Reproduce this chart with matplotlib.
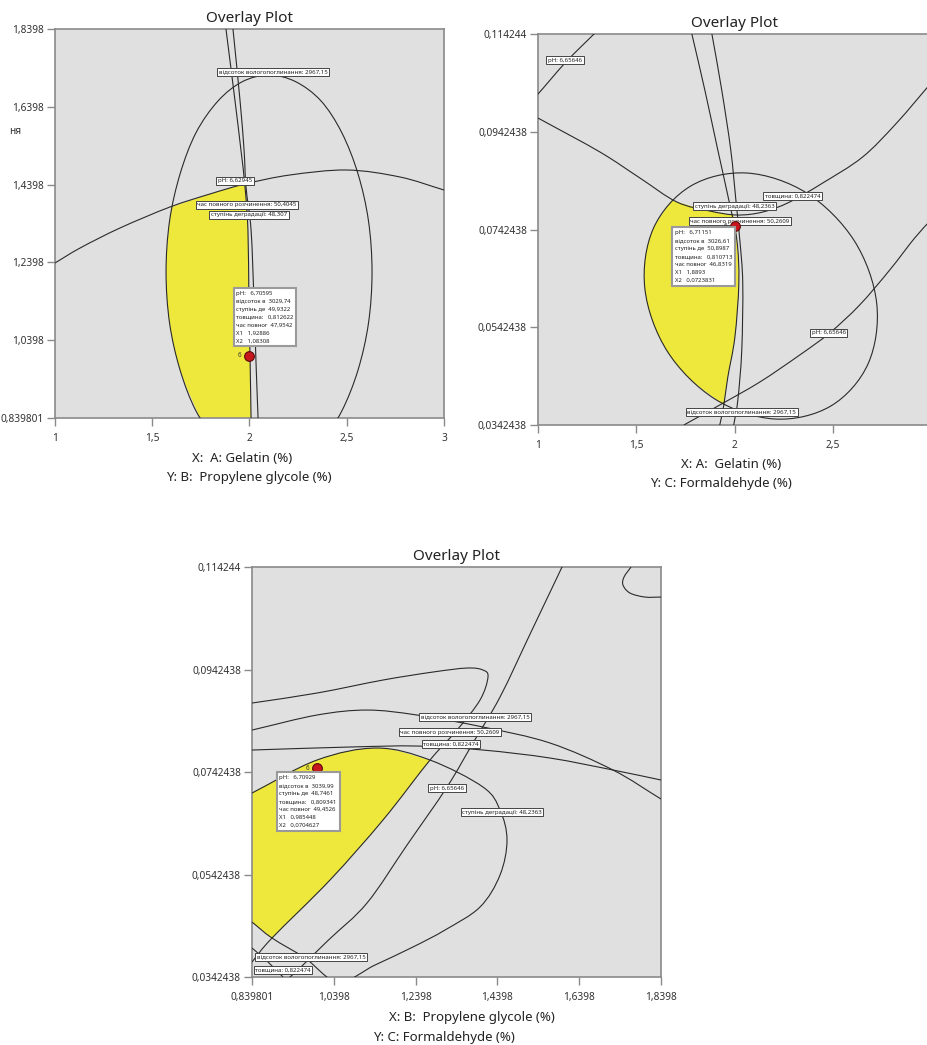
import numpy as np
import matplotlib
matplotlib.use('Agg')
import matplotlib.pyplot as plt
from matplotlib.path import Path
from matplotlib.patches import PathPatch

plt.rcParams['font.family'] = ['Noto Sans', 'DejaVu Sans']

# ---------------- panel 1 : Gelatin vs Propylene glycole ----------------
p1_xlim = (1, 3)
p1_ylim = (0.839801, 1.8398)
p1_xticks = [1, 1.5, 2, 2.5, 3]
p1_xlabels = ['1', '1,5', '2', '2,5', '3']
p1_yticks = [0.839801, 1.0398, 1.2398, 1.4398, 1.6398, 1.8398]
p1_ylabels = ['0,839801', '1,0398', '1,2398', '1,4398', '1,6398', '1,8398']

p1_moist = [(1.838, 0.7755), (1.725, 0.8578), (1.643, 0.9632), (1.589, 1.0840), (1.571, 1.2151),
            (1.589, 1.3462), (1.643, 1.4671), (1.725, 1.5732), (1.838, 1.6547), (1.963, 1.7043),
            (2.100, 1.7216), (2.2375, 1.7043), (2.368, 1.6547), (2.4746, 1.5732), (2.558, 1.4671),
            (2.6118, 1.3462), (2.630, 1.2151), (2.6118, 1.0840), (2.558, 0.9632), (2.4746, 0.8578),
            (2.368, 0.7755)]
p1_ph = [(1.0, 1.2383), (1.129, 1.2768), (1.334, 1.3282), (1.591, 1.3822), (1.797, 1.4157),
         (1.977, 1.4414), (2.208, 1.4645), (2.501, 1.4773), (2.774, 1.4593), (3.0, 1.4259)]
p1_time = [(1.879, 1.8398), (1.925, 1.6573), (1.956, 1.5287), (1.977, 1.4336), (1.992, 1.3231),
           (1.997, 1.1432), (2.003, 0.9889), (2.008, 0.8398)]
p1_degr = [(1.915, 1.8398), (1.951, 1.6573), (1.972, 1.5287), (1.982, 1.4336), (2.008, 1.3231),
           (2.023, 1.1432), (2.033, 0.9889), (2.044, 0.8398)]
p1_yellow = [
    [(1.7455, 0.8398), (1.643, 0.9632), (1.589, 1.0840), (1.571, 1.2151), (1.589, 1.3462),
     (1.6015, 1.3822)],
    [(1.6015, 1.3822), (1.797, 1.4157), (1.977, 1.4414)],
    [(1.977, 1.4414), (1.992, 1.3231), (1.997, 1.1432), (2.003, 0.9889), (2.008, 0.8398)],
    [(2.008, 0.8398), (1.7455, 0.8398)],
]
p1_labels = [
    (2.121, 1.7293, 'відсоток вологопоглинання: 2967,15'),
    (1.925, 1.4491, 'pH: 6,62945'),
    (1.987, 1.3874, 'час повного розчинення: 50,4045'),
    (1.997, 1.3617, 'ступінь деградації: 48,307'),
]
p1_point = (1.997, 0.9992)
p1_info = ['pH:   6,70595', 'відсоток в  3029,74', 'ступінь де  49,9322', 'товщина:   0,812622',
           'час повног  47,9542', 'X1   1,92886', 'X2   1,08308']

# ---------------- panel 2 : Gelatin vs Formaldehyde ----------------
p2_xlim = (1, 3)
p2_ylim = (0.0342438, 0.114244)
p2_xticks = [1, 1.5, 2, 2.5]
p2_xlabels = ['1', '1,5', '2', '2,5']
p2_yticks = [0.0342438, 0.0542438, 0.0742438, 0.0942438, 0.114244]
p2_ylabels = ['0,0342438', '0,0542438', '0,0742438', '0,0942438', '0,114244']

p2_ph_top = [(0.98, 0.10150), (1.0, 0.10197), (1.142, 0.10851), (1.285, 0.11424), (1.30, 0.1148)]
p2_degr = [(1.0, 0.09705), (1.3152, 0.09010), (1.5186, 0.08478), (1.7067, 0.07987), (1.8744, 0.07803),
           (2.012, 0.07721), (2.144, 0.07782), (2.281, 0.07987), (2.449, 0.08376), (2.652, 0.08908),
           (2.825, 0.09603), (3.0, 0.10420)]
p2_time = [(1.783, 0.11424), (1.849, 0.10278), (1.915, 0.09051), (1.971, 0.08028), (2.012, 0.07209),
           (2.022, 0.06330), (2.002, 0.05225), (1.966, 0.04406), (1.9456, 0.03833), (1.925, 0.03424)]
p2_thick = [(1.885, 0.11424), (1.935, 0.10278), (1.981, 0.09051), (2.007, 0.08028), (2.027, 0.07209),
            (2.042, 0.06330), (2.037, 0.04959), (2.017, 0.03936), (1.996, 0.03424)]
p2_moist = [(2.7235, 0.05921), (2.6091, 0.07197), (2.3671, 0.08171), (2.0625, 0.08580), (1.7773, 0.08314),
            (1.5872, 0.07447), (1.5440, 0.06207), (1.6584, 0.04930), (1.9004, 0.03956), (2.2049, 0.03547),
            (2.4901, 0.03813), (2.6802, 0.04680)]
p2_ph_low = [(1.742, 0.03424), (1.925, 0.03834), (2.129, 0.04304), (2.332, 0.04857), (2.484, 0.05307),
             (2.637, 0.05880), (2.790, 0.06596), (2.917, 0.07251), (3.0, 0.0762)]
p2_yellow = [
    [(1.9456, 0.03833), (1.7677, 0.04386), (1.6584, 0.04930), (1.5826, 0.05550), (1.5440, 0.06207),
     (1.5460, 0.06855), (1.5872, 0.07447), (1.6812, 0.08028)],
    [(1.6812, 0.08028), (1.7067, 0.07987), (1.8744, 0.07803), (1.996, 0.07721)],
    [(1.996, 0.07721), (2.012, 0.07209), (2.022, 0.06330), (2.002, 0.05225), (1.966, 0.04406),
     (1.9456, 0.03833)],
]
p2_labels = [
    (1.137, 0.10892, 'pH: 6,65646'),
    (2.0015, 0.07905, 'ступінь деградації: 48,2363'),
    (2.296, 0.08110, 'товщина: 0,822474'),
    (2.027, 0.07598, 'час повного розчинення: 50,2609'),
    (2.479, 0.05307, 'pH: 6,65646'),
    (2.037, 0.03690, 'відсоток вологопоглинання: 2967,15'),
]
p2_point = (2.0015, 0.07496)
p2_info = ['pH:   6,71151', 'відсоток в  3026,61', 'ступінь де  50,8987', 'товщина:   0,810713',
           'час повног  46,8319', 'X1   1,8893', 'X2   0,0723831']

# ---------------- panel 3 : Propylene glycole vs Formaldehyde ----------------
p3_xlim = (0.839801, 1.8398)
p3_ylim = (0.0342438, 0.114244)
p3_xticks = [0.839801, 1.0398, 1.2398, 1.4398, 1.6398, 1.8398]
p3_xlabels = ['0,839801', '1,0398', '1,2398', '1,4398', '1,6398', '1,8398']
p3_yticks = [0.0342438, 0.0542438, 0.0742438, 0.0942438, 0.114244]
p3_ylabels = ['0,0342438', '0,0542438', '0,0742438', '0,0942438', '0,114244']

p3_ph = [(1.6100, 0.11638), (1.5978, 0.11424), (1.5220, 0.10155), (1.4462, 0.08887), (1.3814, 0.08009),
         (1.3166, 0.07131), (1.2188, 0.05999), (1.1210, 0.04868), (1.0268, 0.04146), (0.9327, 0.03424),
         (0.8838, 0.03171)]
p3_hook = [(0.8398, 0.08770), (0.9987, 0.08965), (1.1601, 0.09219), (1.2823, 0.09375), (1.3655, 0.09453),
           (1.4046, 0.09414), (1.4168, 0.09277), (1.3973, 0.08829), (1.3410, 0.08243), (1.2750, 0.07658),
           (1.1601, 0.06488), (1.0305, 0.05317), (0.8887, 0.04185), (0.8398, 0.03717)]
p3_moist = [(0.8398, 0.08243), (0.9987, 0.08536), (1.1210, 0.08633), (1.2432, 0.08536), (1.4046, 0.08302),
            (1.5684, 0.07990), (1.7225, 0.07463), (1.8398, 0.06897)]
p3_thick = [(0.8398, 0.07853), (1.0794, 0.07912), (1.2432, 0.07931), (1.4046, 0.07853), (1.5684, 0.07697),
            (1.7225, 0.07463), (1.8398, 0.07268)]
p3_degr = [(0.8398, 0.07014), (0.9987, 0.07658), (1.1454, 0.07892), (1.2750, 0.07658), (1.4046, 0.07131),
           (1.4462, 0.06683), (1.4633, 0.06097), (1.4462, 0.05414), (1.3973, 0.04790), (1.3117, 0.04341),
           (1.2334, 0.04010), (1.1405, 0.03658), (1.0501, 0.03327), (0.9694, 0.03795), (0.8887, 0.04185),
           (0.8398, 0.04497)]
p3_corner = [(1.7665, 0.11424), (1.7494, 0.11229), (1.7469, 0.11072), (1.7640, 0.10916), (1.8007, 0.10838),
             (1.8398, 0.10838)]
p3_low = [(0.8398, 0.03990), (0.8789, 0.03717), (0.9156, 0.03424)]
p3_yellow = [
    [(0.8398, 0.07014), (0.9987, 0.07658), (1.1454, 0.07892), (1.2750, 0.07658)],
    [(1.2750, 0.07658), (1.1601, 0.06488), (1.0305, 0.05317), (0.8887, 0.04185)],
    [(0.8887, 0.04185), (0.8398, 0.04497)],
    [(0.8398, 0.04497), (0.8398, 0.07014)],
]
p3_labels = [
    (1.3850, 0.08497, 'відсоток вологопоглинання: 2967,15'),
    (1.3239, 0.08204, 'час повного розчинення: 50,2609'),
    (1.3264, 0.07970, 'товщина: 0,822474'),
    (1.3166, 0.07112, 'pH: 6,65646'),
    (1.4511, 0.06643, 'ступінь деградації: 48,2363'),
    (0.9841, 0.03815, 'відсоток вологопоглинання: 2967,15'),
    (0.9156, 0.03561, 'товщина: 0,822474'),
]
p3_point = (0.9987, 0.07502)
p3_info = ['pH:   6,70929', 'відсоток в  3039,99', 'ступінь де  48,7461', 'товщина:   0,809341',
           'час повног  49,4526', 'X1   0,985448', 'X2   0,0704627']

YELLOW = '#eee73c'
GRAY = '#e0e0e0'
LINE = '#2a2a2a'


def bezier(pts, closed=False):
    # Catmull-Rom through the read points, as cubic bezier control points
    p = np.asarray(pts, float)
    n = len(p)
    if closed:
        ext = np.vstack([p[-1], p, p[0], p[1]])
        segs = n
    else:
        ext = np.vstack([2 * p[0] - p[1], p, 2 * p[-1] - p[-2]])
        segs = n - 1
    verts = [ext[1]]
    for i in range(1, segs + 1):
        a, b, c, d = ext[i - 1], ext[i], ext[i + 1], ext[i + 2]
        verts += [b + (c - a) / 6, c - (d - b) / 6, c]
    return verts


def curve(ax, pts, closed=False):
    v = bezier(pts, closed)
    codes = [Path.MOVETO] + [Path.CURVE4] * (len(v) - 1)
    ax.add_patch(PathPatch(Path(v, codes), fc='none', ec=LINE, lw=0.8, zorder=3))


def region(ax, segments):
    verts = []
    for k, seg in enumerate(segments):
        v = bezier(seg)
        verts += v if k == 0 else v[1:]
    codes = [Path.MOVETO] + [Path.CURVE4] * (len(verts) - 1)
    verts.append(verts[0])
    codes.append(Path.CLOSEPOLY)
    ax.add_patch(PathPatch(Path(verts, codes), fc=YELLOW, ec='none', zorder=2))


def setup(ax, xlim, ylim, xt, xl, yt, yl):
    ax.set_facecolor(GRAY)
    ax.set_xlim(*xlim)
    ax.set_ylim(*ylim)
    ax.set_xticks(xt)
    ax.set_xticklabels(xl)
    ax.set_yticks(yt)
    ax.set_yticklabels(yl)
    ax.tick_params(direction='out', length=6, width=1, color='#8a8a8a', labelsize=7.3,
                   labelcolor='#333333', pad=2)
    ax.tick_params(axis='x', pad=5)
    for s in ax.spines.values():
        s.set_color('#8a8a8a')
        s.set_linewidth(1.2)
    ax.set_title('Overlay Plot', fontsize=11, color='#222222', pad=5)


def labels(ax, items):
    for x, y, s in items:
        ax.text(x, y, s, fontsize=4.4, ha='center', va='center', color='#222', zorder=5,
                bbox=dict(boxstyle='square,pad=0.25', fc='white', ec='#444', lw=0.7))


def point(ax, pt, info, dx, dy):
    ax.plot(pt[0], pt[1], 'o', ms=7, mfc='#c8161d', mec='#5a0a0a', mew=0.8, zorder=6)
    ax.annotate('6', pt, xytext=(-7, 0), textcoords='offset points', fontsize=4.5,
                ha='center', va='center', color='#333', zorder=6)
    ax.annotate('\n'.join(info), pt, xytext=(dx, dy), textcoords='offset points', fontsize=4.3,
                ha='left', va='top', linespacing=1.75, color='#222', zorder=7,
                bbox=dict(boxstyle='square,pad=0.45', fc='white', ec='#9a9a9a', lw=1.5))


W, H = 928, 1045
fig = plt.figure(figsize=(W / 100, H / 100), dpi=100)


def axes_px(l, t, r, b):
    return fig.add_axes([l / W, 1 - b / H, (r - l) / W, (b - t) / H])


ax1 = axes_px(55, 29, 444, 418)
setup(ax1, p1_xlim, p1_ylim, p1_xticks, p1_xlabels, p1_yticks, p1_ylabels)
region(ax1, p1_yellow)
for c in (p1_moist, p1_ph, p1_time, p1_degr):
    curve(ax1, c)
labels(ax1, p1_labels)
point(ax1, p1_point, p1_info, -9, 47)

ax2 = axes_px(538, 34, 931, 425)
setup(ax2, p2_xlim, p2_ylim, p2_xticks, p2_xlabels, p2_yticks, p2_ylabels)
region(ax2, p2_yellow)
for c in (p2_ph_top, p2_degr, p2_time, p2_thick, p2_ph_low):
    curve(ax2, c)
curve(ax2, p2_moist, closed=True)
labels(ax2, p2_labels)
point(ax2, p2_point, p2_info, -43, -3)

ax3 = axes_px(252, 567, 661, 977)
setup(ax3, p3_xlim, p3_ylim, p3_xticks, p3_xlabels, p3_yticks, p3_ylabels)
region(ax3, p3_yellow)
for c in (p3_ph, p3_hook, p3_moist, p3_thick, p3_degr, p3_corner, p3_low):
    curve(ax3, c)
labels(ax3, p3_labels)
point(ax3, p3_point, p3_info, -27, -5)

axis_titles = [
    (242, 458, 'X:  A: Gelatin (%)'), (249, 477, 'Y: B:  Propylene glycole (%)'),
    (731, 465, 'X: A:  Gelatin (%)'), (721, 483, 'Y: C: Formaldehyde (%)'),
    (472, 1018, 'X: B:  Propylene glycole (%)'), (444, 1037, 'Y: C: Formaldehyde (%)'),
]
for x, y, s in axis_titles:
    fig.text(x / W, 1 - y / H, s, fontsize=9.5, ha='center', va='center', color='#222')
fig.text(15 / W, 1 - 131 / H, 'ня', fontsize=7.3, ha='center', va='center', color='#333')

fig.savefig('out.png', dpi=100, facecolor='white')
